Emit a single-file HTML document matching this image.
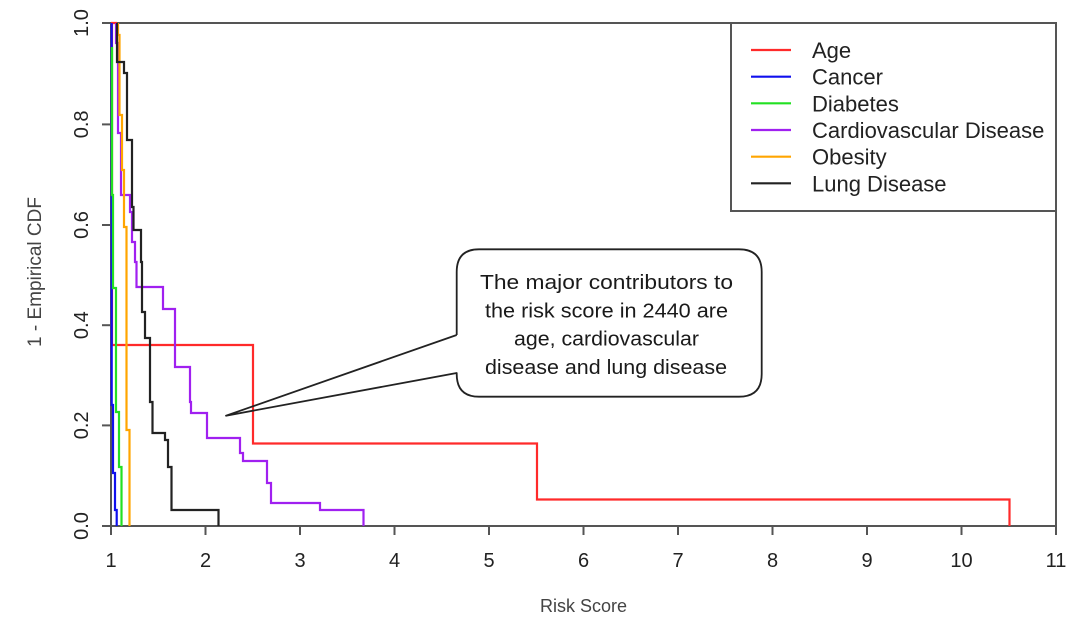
<!DOCTYPE html>
<html>
<head>
<meta charset="utf-8">
<style>
  html, body { margin: 0; padding: 0; background: #ffffff; }
  body { width: 1085px; height: 626px; overflow: hidden; }
  svg { display: block; }
  text { font-family: "Liberation Sans", Arial, sans-serif; }
</style>
</head>
<body>
<svg width="1085" height="626" viewBox="0 0 1085 626" xmlns="http://www.w3.org/2000/svg">
  <rect x="0" y="0" width="1085" height="626" fill="#ffffff"/>

  <!-- axes frame lines -->
  <g stroke="#555" stroke-width="2" fill="none">
    <line x1="102" y1="23" x2="1056" y2="23"/>
    <line x1="102" y1="526" x2="1056" y2="526"/>
    <line x1="111" y1="23" x2="111" y2="535"/>
    <line x1="1056" y1="23" x2="1056" y2="535"/>
    <!-- y ticks -->
    <line x1="102" y1="124.4" x2="111" y2="124.4"/>
    <line x1="102" y1="225" x2="111" y2="225"/>
    <line x1="102" y1="325.2" x2="111" y2="325.2"/>
    <line x1="102" y1="425.4" x2="111" y2="425.4"/>
    <!-- x ticks -->
    <line x1="205.5" y1="526" x2="205.5" y2="535"/>
    <line x1="300" y1="526" x2="300" y2="535"/>
    <line x1="394.5" y1="526" x2="394.5" y2="535"/>
    <line x1="489" y1="526" x2="489" y2="535"/>
    <line x1="583.5" y1="526" x2="583.5" y2="535"/>
    <line x1="678" y1="526" x2="678" y2="535"/>
    <line x1="772.5" y1="526" x2="772.5" y2="535"/>
    <line x1="867" y1="526" x2="867" y2="535"/>
    <line x1="961.5" y1="526" x2="961.5" y2="535"/>
  </g>

  <!-- y tick labels -->
  <g font-size="20" fill="#222" text-anchor="middle">
    <text transform="translate(88,23) rotate(-90)">1.0</text>
    <text transform="translate(88,124.4) rotate(-90)">0.8</text>
    <text transform="translate(88,225) rotate(-90)">0.6</text>
    <text transform="translate(88,325.2) rotate(-90)">0.4</text>
    <text transform="translate(88,425.4) rotate(-90)">0.2</text>
    <text transform="translate(88,526) rotate(-90)">0.0</text>
  </g>

  <!-- x tick labels -->
  <g font-size="20" fill="#222" text-anchor="middle">
    <text x="111" y="567">1</text>
    <text x="205.5" y="567">2</text>
    <text x="300" y="567">3</text>
    <text x="394.5" y="567">4</text>
    <text x="489" y="567">5</text>
    <text x="583.5" y="567">6</text>
    <text x="678" y="567">7</text>
    <text x="772.5" y="567">8</text>
    <text x="867" y="567">9</text>
    <text x="961.5" y="567">10</text>
    <text x="1056" y="567">11</text>
  </g>

  <!-- axis titles -->
  <text x="583.5" y="612" font-size="18" fill="#444" text-anchor="middle">Risk Score</text>
  <text transform="translate(41,272) rotate(-90)" font-size="19" fill="#444" text-anchor="middle">1 - Empirical CDF</text>

  <!-- series -->
  <g fill="none" stroke-width="2.2" stroke-linejoin="miter">
    <!-- Age -->
    <path stroke="#ff2a2a" d="M111,23 H117 M112,23 V345 H253 V443.5 H537 V499.5 H1009.5 V526"/>
    <!-- Cancer -->
    <path stroke="#1010ee" d="M111.7,23 V405 H113 V473 H115 V510 H116.7 V526"/>
    <!-- Diabetes -->
    <path stroke="#22e022" d="M112,47 V195 H113 V288 H116 V412 H119 V467 H121.5 V526"/>
    <!-- Cardiovascular Disease -->
    <path stroke="#a020f0" d="M116,23 V43 H118 V133 H121 V195 H130 V212 H132 V242 H135 V262 H136.5 V287 H163 V309 H175 V367 H190 V402 H191 V413 H207 V438 H240 V453 H243 V461 H267 V483 H271 V503 H320 V510 H363.5 V526"/>
    <!-- Obesity -->
    <path stroke="#ffa500" d="M118,23 V35 H119.5 V115 H122 V170 H124 V227 H126.5 V430 H129.5 V526"/>
    <!-- Lung Disease -->
    <path stroke="#222" d="M117,23 V62 H124 V73 H127 V140 H132 V207 H133.5 V230 H141 V262 H142 V312 H145 V338 H150 V402 H152.5 V433 H165 V440 H168 V467 H171.5 V510 H218.5 V526"/>
  </g>

  <!-- legend -->
  <rect x="731" y="23" width="325" height="188" fill="#ffffff" stroke="#555" stroke-width="2"/>
  <g stroke-width="2.2">
    <line x1="751" y1="50" x2="791" y2="50" stroke="#ff2a2a"/>
    <line x1="751" y1="76.7" x2="791" y2="76.7" stroke="#1010ee"/>
    <line x1="751" y1="103.3" x2="791" y2="103.3" stroke="#22e022"/>
    <line x1="751" y1="130" x2="791" y2="130" stroke="#a020f0"/>
    <line x1="751" y1="156.7" x2="791" y2="156.7" stroke="#ffa500"/>
    <line x1="751" y1="183.3" x2="791" y2="183.3" stroke="#222"/>
  </g>
  <g font-size="22" fill="#222">
    <text x="812" y="58">Age</text>
    <text x="812" y="84.7">Cancer</text>
    <text x="812" y="111.3">Diabetes</text>
    <text x="812" y="138">Cardiovascular Disease</text>
    <text x="812" y="164.7">Obesity</text>
    <text x="812" y="191.3">Lung Disease</text>
  </g>

  <!-- callout -->
  <path d="M479,249.3 H739 Q761.7,249.3 761.7,272 V374 Q761.7,396.7 739,396.7 H479 Q456.7,396.7 456.7,374 V272 Q456.7,249.3 479,249.3 Z" fill="#ffffff" stroke="none"/>
  <path d="M456.7,335 V272 Q456.7,249.3 479,249.3 H739 Q761.7,249.3 761.7,272 V374 Q761.7,396.7 739,396.7 H479 Q456.7,396.7 456.7,374 V373 L226,415.7 L456.7,335" fill="none" stroke="#222" stroke-width="1.8" stroke-linejoin="round"/>
  <g font-size="20" fill="#1a1a1a">
    <text x="480" y="289" textLength="253" lengthAdjust="spacingAndGlyphs">The major contributors to</text>
    <text x="485" y="317.3" textLength="243" lengthAdjust="spacingAndGlyphs">the risk score in 2440  are</text>
    <text x="514" y="345.5" textLength="185" lengthAdjust="spacingAndGlyphs">age, cardiovascular</text>
    <text x="485" y="374" textLength="242" lengthAdjust="spacingAndGlyphs">disease and lung disease</text>
  </g>
</svg>
</body>
</html>
